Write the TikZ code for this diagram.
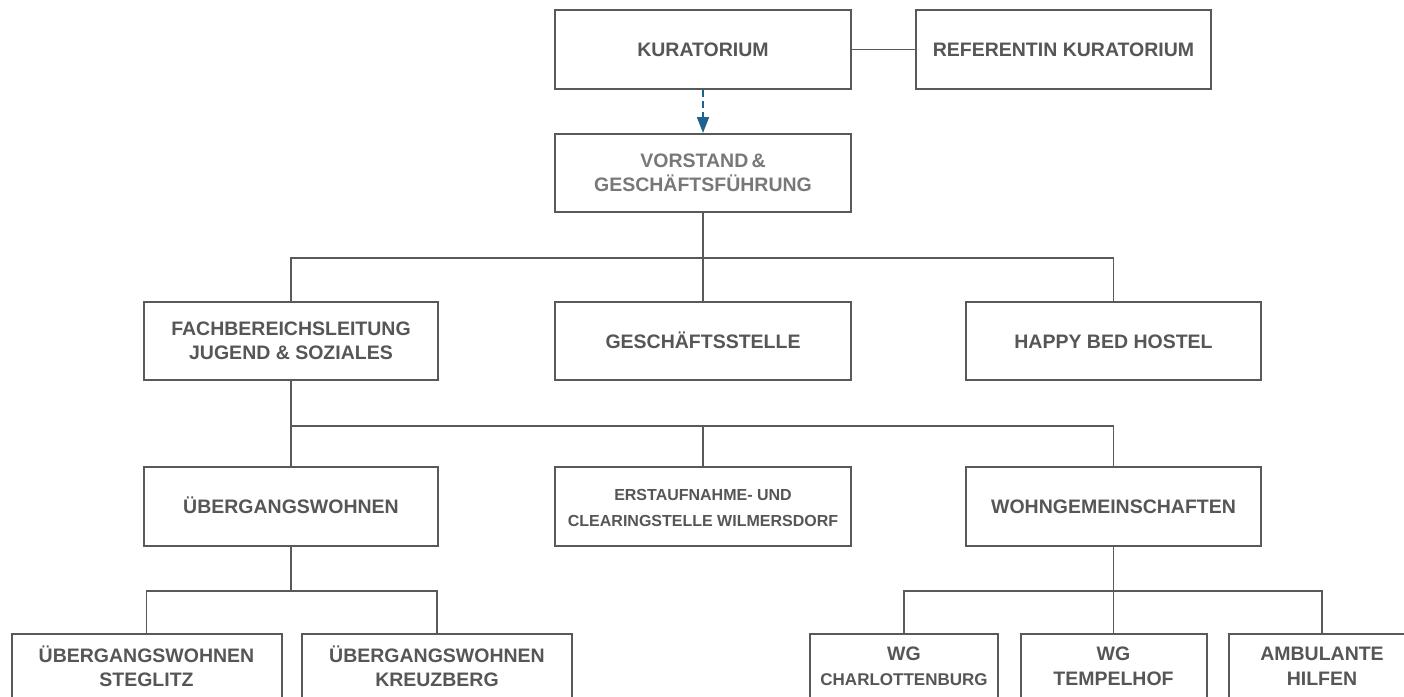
\documentclass[tikz,border=0pt]{standalone}
\usepackage{fontspec}
\setmainfont{Liberation Sans}
\usetikzlibrary{arrows.meta}
\definecolor{ln}{HTML}{58595B}
\definecolor{tx}{HTML}{555658}
\definecolor{txl}{HTML}{77787A}
\definecolor{blu}{HTML}{1F628E}
\tikzset{
  box/.style={draw=ln, line width=2pt, fill=white, rectangle, inner sep=0pt, align=center,
    text=tx, font=\fontsize{19.5}{24.5}\selectfont\bfseries, minimum height=78pt},
  one/.style={text height=14pt, text depth=0pt},
  wide/.style={minimum width=296pt},
  small/.style={minimum width=186pt},
  conn/.style={draw=ln, line width=1.8pt},
  dash arrow/.style={draw=blu, line width=1.8pt, dash pattern=on 7pt off 4pt,
    -{Triangle[length=16pt,width=12pt]}}
}
\begin{document}
\begin{tikzpicture}[x=1pt,y=-1pt]
\useasboundingbox (0,0) rectangle (1404,696);
% level 0
\node[box,one,wide,minimum height=79pt] (kur) at (703,49.5) {KURATORIUM};
\node[box,one,minimum width=295pt,minimum height=79pt] (ref) at (1063.5,49.5) {REFERENTIN KURATORIUM};
\node[box,wide,text=txl] (vor) at (703,173) {VORSTAND\,\&\\GESCHÄFTSFÜHRUNG};
% level 2
\node[box,minimum width=294pt] (fach) at (291,341) {FACHBEREICHSLEITUNG\\JUGEND \& SOZIALES};
\node[box,one,wide] (gs) at (703,341) {GESCHÄFTSSTELLE};
\node[box,one,minimum width=295pt] (hbh) at (1113.5,341) {HAPPY BED HOSTEL};
% level 3
\node[box,one,minimum width=294pt,minimum height=79pt] (ueb) at (291,506.5) {ÜBERGANGSWOHNEN};
\node[box,wide,minimum height=79pt,font=\fontsize{16}{26}\selectfont\bfseries] (ers) at (703,506.5) {\rule{0pt}{14pt}ERSTAUFNAHME- UND\\CLEARINGSTELLE WILMERSDORF};
\node[box,one,minimum width=295pt,minimum height=79pt] (wg) at (1113.5,506.5) {WOHNGEMEINSCHAFTEN};
% level 4
\node[box,minimum width=270pt,minimum height=65pt] (steg) at (146.5,666.5) {ÜBERGANGSWOHNEN\\STEGLITZ};
\node[box,minimum width=270pt,minimum height=65pt] (kreuz) at (437,666.5) {ÜBERGANGSWOHNEN\\KREUZBERG};
\node[box,minimum width=188pt,minimum height=65pt] (char) at (904,666.5) {WG\\{\fontsize{17}{24.5}\selectfont CHARLOTTENBURG}};
\node[box,small,minimum height=65pt] (temp) at (1113.5,666.5) {WG\\TEMPELHOF};
\node[box,small,minimum height=65pt] (amb) at (1322,666.5) {AMBULANTE\\HILFEN};
% connectors
\draw[conn] (kur.east) -- (ref.west);
\draw[dash arrow] (kur.south) -- (vor.north);
\coordinate (j1) at (703,258);
\draw[conn] (vor.south) -- (j1);
\draw[conn] (fach.north) |- (j1) -| (hbh.north);
\draw[conn] (j1) -- (gs.north);
\coordinate (j2) at (291,426);
\draw[conn] (fach.south) -- (j2);
\draw[conn] (j2) -- (ueb.north);
\draw[conn] (j2) -| (wg.north);
\draw[conn] (ers.north) -- (ers.north |- j2);
\coordinate (j3) at (291,591);
\draw[conn] (ueb.south) -- (j3);
\draw[conn] (steg.north) |- (j3) -| (kreuz.north);
\coordinate (j4) at (1113.5,591);
\draw[conn] (wg.south) -- (j4);
\draw[conn] (char.north) |- (j4) -| (amb.north);
\draw[conn] (j4) -- (temp.north);
\end{tikzpicture}
\end{document}
